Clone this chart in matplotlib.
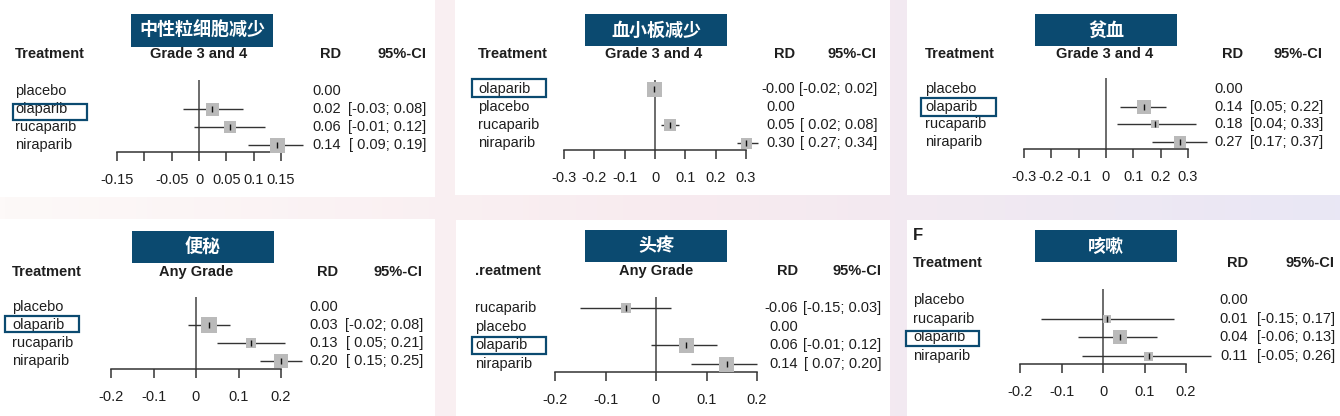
import matplotlib
matplotlib.use('Agg')
import matplotlib.pyplot as plt
import matplotlib.transforms as mtransforms
from matplotlib.patches import Rectangle
import numpy as np

plt.rcParams['font.family'] = ['Liberation Sans', 'Noto Sans CJK SC', 'DejaVu Sans']

W, H = 1340, 416
NAVY = '#0b4a70'
TXT = '#1e1e1e'

# ---- data ----
neut_trt = ['placebo', 'olaparib', 'rucaparib', 'niraparib']
neut_rd = [0.00, 0.024, 0.057, 0.143]
neut_lo = [np.nan, -0.03, -0.01, 0.09]
neut_hi = [np.nan, 0.08, 0.12, 0.19]
neut_box = [0, 13, 12, 15]
neut_ticks = [-0.15, -0.10, -0.05, 0, 0.05, 0.10, 0.15]
neut_ticklabels = ['-0.15', '', '-0.05', '0', '0.05', '0.1', '0.15']

plt_trt = ['olaparib', 'placebo', 'rucaparib', 'niraparib']
plt_rd = [-0.002, 0.00, 0.05, 0.30]
plt_lo = [-0.02, np.nan, 0.02, 0.27]
plt_hi = [0.02, np.nan, 0.08, 0.34]
plt_box = [15, 0, 12, 11]
plt_ticks = [-0.3, -0.2, -0.1, 0, 0.1, 0.2, 0.3]
plt_ticklabels = ['-0.3', '-0.2', '-0.1', '0', '0.1', '0.2', '0.3']

anem_trt = ['placebo', 'olaparib', 'rucaparib', 'niraparib']
anem_rd = [0.00, 0.14, 0.18, 0.27]
anem_lo = [np.nan, 0.05, 0.04, 0.17]
anem_hi = [np.nan, 0.22, 0.33, 0.37]
anem_box = [0, 14, 8, 12]
anem_ticks = [-0.3, -0.2, -0.1, 0, 0.1, 0.2, 0.3]
anem_ticklabels = ['-0.3', '-0.2', '-0.1', '0', '0.1', '0.2', '0.3']

const_trt = ['placebo', 'olaparib', 'rucaparib', 'niraparib']
const_rd = [0.00, 0.03, 0.13, 0.20]
const_lo = [np.nan, -0.02, 0.05, 0.15]
const_hi = [np.nan, 0.08, 0.21, 0.25]
const_box = [0, 16, 10, 14]
const_ticks = [-0.2, -0.1, 0, 0.1, 0.2]
const_ticklabels = ['-0.2', '-0.1', '0', '0.1', '0.2']

head_trt = ['rucaparib', 'placebo', 'olaparib', 'niraparib']
head_rd = [-0.06, 0.00, 0.06, 0.14]
head_lo = [-0.15, np.nan, -0.01, 0.07]
head_hi = [0.03, np.nan, 0.12, 0.20]
head_box = [10, 0, 15, 15]
head_ticks = [-0.2, -0.1, 0, 0.1, 0.2]
head_ticklabels = ['-0.2', '-0.1', '0', '0.1', '0.2']

cough_trt = ['placebo', 'rucaparib', 'olaparib', 'niraparib']
cough_rd = [0.00, 0.01, 0.04, 0.11]
cough_lo = [np.nan, -0.15, -0.06, -0.05]
cough_hi = [np.nan, 0.17, 0.13, 0.26]
cough_box = [0, 8, 14, 9]
cough_ticks = [-0.2, -0.1, 0, 0.1, 0.2]
cough_ticklabels = ['-0.2', '-0.1', '0', '0.1', '0.2']

# ---- layout of each screenshot panel, in pixels ----
panels = [
    dict(title='中性粒细胞减少', grade='Grade 3 and 4', trt_head='Treatment',
         white=(0, 0, 435, 197), tbox=(131, 14, 273, 47), head_y=54, mid_y=54,
         trt_x=15, mid_x=199, rd_x=341, ci_x=426, row_y0=91, row_dy=18,
         tick_px=(117, 281), ref_top=80, axis_y=152, hl=(13, 104, 87, 120),
         data=(neut_trt, neut_rd, neut_lo, neut_hi, neut_box, neut_ticks, neut_ticklabels)),
    dict(title='血小板减少', grade='Grade 3 and 4', trt_head='Treatment',
         white=(455, 0, 890, 195), tbox=(585, 14, 727, 46), head_y=54, mid_y=54,
         trt_x=478, mid_x=654, rd_x=795, ci_x=877, row_y0=89, row_dy=18,
         tick_px=(564, 746), ref_top=80, axis_y=150, hl=(472, 79, 546, 97),
         data=(plt_trt, plt_rd, plt_lo, plt_hi, plt_box, plt_ticks, plt_ticklabels)),
    dict(title='贫血', grade='Grade 3 and 4', trt_head='Treatment',
         white=(907, 0, 1340, 195), tbox=(1035, 14, 1177, 46), head_y=54, mid_y=54,
         trt_x=925, mid_x=1105, rd_x=1243, ci_x=1323, row_y0=89, row_dy=17.7,
         tick_px=(1024, 1188), ref_top=78, axis_y=149, hl=(921, 98, 996, 116),
         data=(anem_trt, anem_rd, anem_lo, anem_hi, anem_box, anem_ticks, anem_ticklabels)),
    dict(title='便秘', grade='Any Grade', trt_head='Treatment',
         white=(0, 219, 435, 416), tbox=(132, 231, 274, 263), head_y=272, mid_y=272,
         trt_x=12, mid_x=196, rd_x=338, ci_x=423, row_y0=307, row_dy=18,
         tick_px=(111, 281), ref_top=297, axis_y=369, hl=(5, 316, 79, 332),
         data=(const_trt, const_rd, const_lo, const_hi, const_box, const_ticks, const_ticklabels)),
    dict(title='头疼', grade='Any Grade', trt_head='.reatment',
         white=(456, 220, 890, 416), tbox=(585, 230, 727, 262), head_y=271, mid_y=271,
         trt_x=475, mid_x=656, rd_x=798, ci_x=881, row_y0=308, row_dy=18.7,
         tick_px=(555, 757), ref_top=297, axis_y=372, hl=(472, 337, 546, 354),
         data=(head_trt, head_rd, head_lo, head_hi, head_box, head_ticks, head_ticklabels)),
    dict(title='咳嗽', grade='Any Grade', trt_head='Treatment',
         white=(907, 220, 1340, 416), tbox=(1035, 230, 1177, 262), head_y=263, mid_y=254,
         trt_x=913, mid_x=1103, rd_x=1248, ci_x=1335, row_y0=300, row_dy=18.7,
         tick_px=(1020, 1186), ref_top=289, axis_y=364, hl=(906, 331, 979, 346),
         data=(cough_trt, cough_rd, cough_lo, cough_hi, cough_box, cough_ticks, cough_ticklabels)),
]


def fx(x):
    return x / W


def fy(y):
    return 1 - y / H


def prect(box, **kw):
    x0, y0, x1, y1 = box
    return Rectangle((fx(x0), fy(y1)), (x1 - x0) / W, (y1 - y0) / H,
                     transform=fig.transFigure, **kw)


def fmt_ci(lo, hi, pad):
    if np.isnan(lo):
        return ''
    s = f'{lo:.2f}'
    if pad and lo >= 0:
        s = ' ' + s
    return f'[{s}; {hi:.2f}]'


fig = plt.figure(figsize=(W / 100, H / 100), dpi=100)

# soft pink-to-lavender backdrop behind the screenshots
bg = fig.add_axes([0, 0, 1, 1], zorder=-10)
grad = np.linspace(0, 1, 256)
c_left = np.array([253, 249, 248]) / 255
c_mid = np.array([248, 235, 239]) / 255
c_right = np.array([233, 231, 245]) / 255
img = np.where(grad[:, None] < 0.5,
               c_left + (c_mid - c_left) * (grad[:, None] / 0.5),
               c_mid + (c_right - c_mid) * ((grad[:, None] - 0.5) / 0.5))
bg.imshow(img[None, :, :], aspect='auto', extent=[0, 1, 0, 1])
bg.axis('off')

for p in panels:
    trt, rd, lo, hi, box, ticks, ticklabels = p['data']
    rd = np.array(rd)
    lo = np.array(lo)
    hi = np.array(hi)
    box = np.array(box)
    rows = np.arange(len(trt))

    white = prect(p['white'], facecolor='white', edgecolor='none', zorder=-5)
    fig.add_artist(white)

    x0, x1 = p['tick_px']
    ax = fig.add_axes([fx(x0), fy(p['axis_y']), (x1 - x0) / W, (p['axis_y'] - p['ref_top']) / H])
    ax.patch.set_alpha(0)
    ax.set_xlim(ticks[0], ticks[-1])
    ax.set_ylim((p['axis_y'] - p['row_y0']) / p['row_dy'], (p['ref_top'] - p['row_y0']) / p['row_dy'])
    for s in ['left', 'top', 'right']:
        ax.spines[s].set_visible(False)
    ax.spines['bottom'].set_color('#333333')
    ax.spines['bottom'].set_linewidth(1.1)
    ax.set_yticks([])
    ax.set_xticks(ticks)
    ax.set_xticklabels(ticklabels)
    ax.tick_params(axis='x', direction='out', length=6.5, width=1.1, pad=8.5,
                   labelsize=10.5, colors='#333333', labelcolor=TXT)

    ax.axvline(0, color='#444444', lw=1.1, zorder=1)
    has = box > 0
    ax.hlines(rows[has], lo[has], hi[has], color='#333333', lw=1.0, clip_on=False, zorder=2)
    ax.scatter(rd[has], rows[has], marker='s', s=(box[has] * 0.72) ** 2, color='#bababa',
               linewidths=0, clip_on=False, zorder=3)
    ax.scatter(rd[has], rows[has], marker='|', s=22, color='#111111', linewidths=1.0,
               clip_on=False, zorder=4)

    tr = mtransforms.blended_transform_factory(fig.transFigure, ax.transData)
    pad = np.nanmin(lo) < 0
    for i in rows:
        ax.text(fx(p['trt_x']), i, trt[i], transform=tr, ha='left', va='center',
                fontsize=10.5, color=TXT, clip_on=False)
        ax.text(fx(p['rd_x']), i, f'{rd[i]:.2f}', transform=tr, ha='right', va='center',
                fontsize=10.5, color=TXT, clip_on=False)
        ax.text(fx(p['ci_x']), i, fmt_ci(lo[i], hi[i], pad), transform=tr, ha='right',
                va='center', fontsize=10.5, color=TXT, clip_on=False)

    hy = fy(p['head_y'])
    fig.text(fx(p['trt_x']), hy, p['trt_head'], ha='left', va='center', fontsize=10.5,
             weight='bold', color=TXT)
    fig.text(fx(p['mid_x']), fy(p['mid_y']), p['grade'], ha='center', va='center', fontsize=10.5,
             weight='bold', color=TXT)
    fig.text(fx(p['rd_x']), hy, 'RD', ha='right', va='center', fontsize=10.5,
             weight='bold', color=TXT)
    fig.text(fx(p['ci_x']), hy, '95%-CI', ha='right', va='center', fontsize=10.5,
             weight='bold', color=TXT)

    # navy title box with the Chinese adverse-event name
    fig.add_artist(prect(p['tbox'], facecolor=NAVY, edgecolor='none', zorder=5))
    tx0, ty0, tx1, ty1 = p['tbox']
    fig.text(fx((tx0 + tx1) / 2), fy((ty0 + ty1) / 2), p['title'], ha='center', va='center',
             fontsize=13, weight='bold', color='white', zorder=6,
             family=['Noto Sans CJK SC', 'DejaVu Sans'])

    # outline around the olaparib row
    fig.add_artist(prect(p['hl'], facecolor='none', edgecolor=NAVY, lw=1.6, zorder=6))

    if p['title'] == '头疼':
        n = fig.text(fx(467), fy(213), 'N', ha='left', va='center', fontsize=11,
                     weight='bold', color=TXT)
        n.set_clip_path(white)
    if p['title'] == '咳嗽':
        fig.text(fx(913), fy(236), 'F', ha='left', va='center', fontsize=12,
                 weight='bold', color=TXT)

fig.savefig('out.png', dpi=100)
